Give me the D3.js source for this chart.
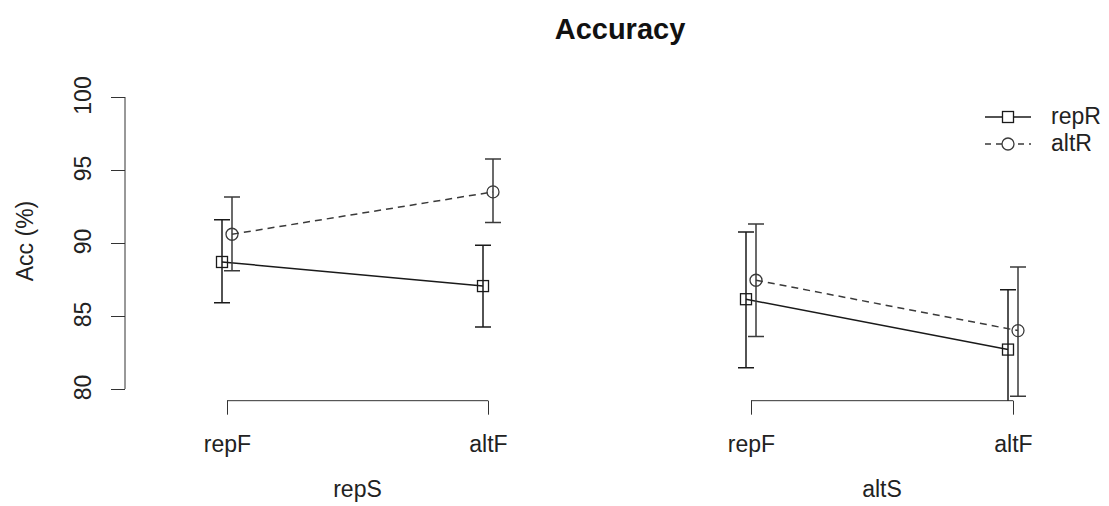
<!DOCTYPE html>
<html>
<head>
<meta charset="utf-8">
<script src="https://cdn.jsdelivr.net/npm/d3@7"></script>
<style>
  html, body { margin: 0; padding: 0; background: #fff; }
  svg { display: block; font-family: "Liberation Sans", Arial, Helvetica, sans-serif; }
</style>
</head>
<body>
<svg id="chart" width="1109" height="506"></svg>
<script>
// Accuracy by stimulus switch (panel), feature switch (x) and response switch (series)
const panels = ["repS", "altS"];
const levels = ["repF", "altF"];
const seriesNames = ["repR", "altR"];

// mean accuracy, per panel, per level
const repRMean = [[88.7, 87.05], [86.15, 82.7]];
const altRMean = [[90.6, 93.5], [87.45, 84.0]];
// error bar bounds
const repRLow  = [[85.9, 84.25], [81.45, 78.0]];
const repRHigh = [[91.6, 89.85], [90.75, 86.8]];
const altRLow  = [[88.1, 91.4], [83.6, 79.5]];
const altRHigh = [[93.15, 95.75], [91.3, 88.35]];

const yTicks = [80, 85, 90, 95, 100];

const svg = d3.select("#chart");
const ink = "#1a1a1a";
const labelSize = 23;

// vertical scale shared by both panels; plot region extends 4% beyond the data range
const y = d3.scaleLinear().domain([80, 100]).range([389, 97]);
const plotTop = y(100.8), plotBottom = y(79.2);

// horizontal positions of the two levels inside each panel
const panelRanges = [[227, 488], [751, 1013]];
const plotLeft = [125, 649], plotRight = [590, 1109];
const offset = { repR: -5, altR: 5 };

const series = [
  { name: seriesNames[0], mean: repRMean, low: repRLow, high: repRHigh, dash: null, shape: "square", color: ink },
  { name: seriesNames[1], mean: altRMean, low: altRLow, high: altRHigh, dash: "7,5", shape: "circle", color: "#3a3a3a" }
];

// title
svg.append("text")
  .attr("x", 620).attr("y", 39)
  .attr("text-anchor", "middle")
  .attr("font-size", 29).attr("font-weight", "bold")
  .attr("fill", "#111")
  .text("Accuracy");

// y axis (left panel only)
const yAxis = d3.axisLeft(y).tickValues(yTicks).tickSize(14).tickPadding(0).tickFormat(d3.format("d"));
const yg = svg.append("g").attr("transform", "translate(125,0)").call(yAxis);
yg.select(".domain").attr("d", `M0,${y(100)}V${y(80)}`).attr("stroke", "#333");
yg.selectAll(".tick line").attr("stroke", "#333");
yg.selectAll(".tick text").remove();
yg.selectAll(".tick").append("text")
  .attr("transform", "translate(-34,-2) rotate(-90)")
  .attr("text-anchor", "middle")
  .attr("fill", "#222")
  .attr("font-size", labelSize)
  .text(d => d);

svg.append("text")
  .attr("transform", `translate(33,${y(90) - 2}) rotate(-90)`)
  .attr("text-anchor", "middle")
  .attr("font-size", labelSize).attr("fill", "#222")
  .text("Acc (%)");

panels.forEach((p, pi) => {
  const x = d3.scalePoint().domain(levels).range(panelRanges[pi]);

  // bracket-style bottom axis
  const xAxis = d3.axisBottom(x).tickSize(14).tickPadding(0);
  const xg = svg.append("g").attr("transform", `translate(0,${plotBottom})`).call(xAxis);
  xg.select(".domain").attr("d", `M${panelRanges[pi][0]},0H${panelRanges[pi][1]}`).attr("stroke", "#333");
  xg.selectAll(".tick line").attr("stroke", "#333");
  xg.selectAll(".tick text")
    .attr("y", 51).attr("dy", null)
    .attr("font-size", labelSize).attr("fill", "#222")
    .attr("font-family", "Liberation Sans, Arial, sans-serif");

  svg.append("text")
    .attr("x", d3.mean(panelRanges[pi])).attr("y", 497)
    .attr("text-anchor", "middle")
    .attr("font-size", labelSize).attr("fill", "#222")
    .text(p);

  const clipId = "clip" + pi;
  svg.append("clipPath").attr("id", clipId)
    .append("rect")
    .attr("x", plotLeft[pi]).attr("y", plotTop)
    .attr("width", plotRight[pi] - plotLeft[pi]).attr("height", plotBottom - plotTop);

  const g = svg.append("g").attr("clip-path", `url(#${clipId})`);

  series.forEach(s => {
    const pts = levels.map((lv, li) => ({
      x: x(lv) + offset[s.name],
      m: s.mean[pi][li], lo: s.low[pi][li], hi: s.high[pi][li]
    }));

    // connecting line
    g.append("path")
      .datum(pts)
      .attr("d", d3.line().x(d => d.x).y(d => y(d.m)))
      .attr("fill", "none").attr("stroke", s.color).attr("stroke-width", 1.5)
      .attr("stroke-dasharray", s.dash);

    // error bars with caps
    const eb = g.selectAll(null).data(pts).enter().append("g")
      .attr("stroke", s.color).attr("stroke-width", 1.5);
    eb.append("line").attr("x1", d => d.x).attr("x2", d => d.x)
      .attr("y1", d => y(d.lo)).attr("y2", d => y(d.hi));
    eb.append("line").attr("x1", d => d.x - 8).attr("x2", d => d.x + 8)
      .attr("y1", d => y(d.lo)).attr("y2", d => y(d.lo));
    eb.append("line").attr("x1", d => d.x - 8).attr("x2", d => d.x + 8)
      .attr("y1", d => y(d.hi)).attr("y2", d => y(d.hi));

    // point markers
    if (s.shape === "square") {
      g.selectAll(null).data(pts).enter().append("rect")
        .attr("x", d => d.x - 5.5).attr("y", d => y(d.m) - 5.5)
        .attr("width", 11).attr("height", 11)
        .attr("fill", "none").attr("stroke", s.color).attr("stroke-width", 1.3);
    } else {
      g.selectAll(null).data(pts).enter().append("circle")
        .attr("cx", d => d.x).attr("cy", d => y(d.m)).attr("r", 6)
        .attr("fill", "none").attr("stroke", s.color).attr("stroke-width", 1.3);
    }
  });
});

// legend
const legend = svg.append("g");
series.forEach((s, i) => {
  const ly = 117 + i * 27;
  legend.append("line")
    .attr("x1", 985).attr("x2", 1031).attr("y1", ly).attr("y2", ly)
    .attr("stroke", s.color).attr("stroke-width", 1.5)
    .attr("stroke-dasharray", s.dash ? "6,5" : null);
  if (s.shape === "square") {
    legend.append("rect").attr("x", 1002.5).attr("y", ly - 5.5).attr("width", 11).attr("height", 11)
      .attr("fill", "#fff").attr("stroke", s.color).attr("stroke-width", 1.3);
  } else {
    legend.append("circle").attr("cx", 1008).attr("cy", ly).attr("r", 6)
      .attr("fill", "#fff").attr("stroke", s.color).attr("stroke-width", 1.3);
  }
  legend.append("text")
    .attr("x", 1051).attr("y", ly + 7)
    .attr("font-size", labelSize).attr("fill", "#222")
    .text(s.name);
});
</script>
</body>
</html>
